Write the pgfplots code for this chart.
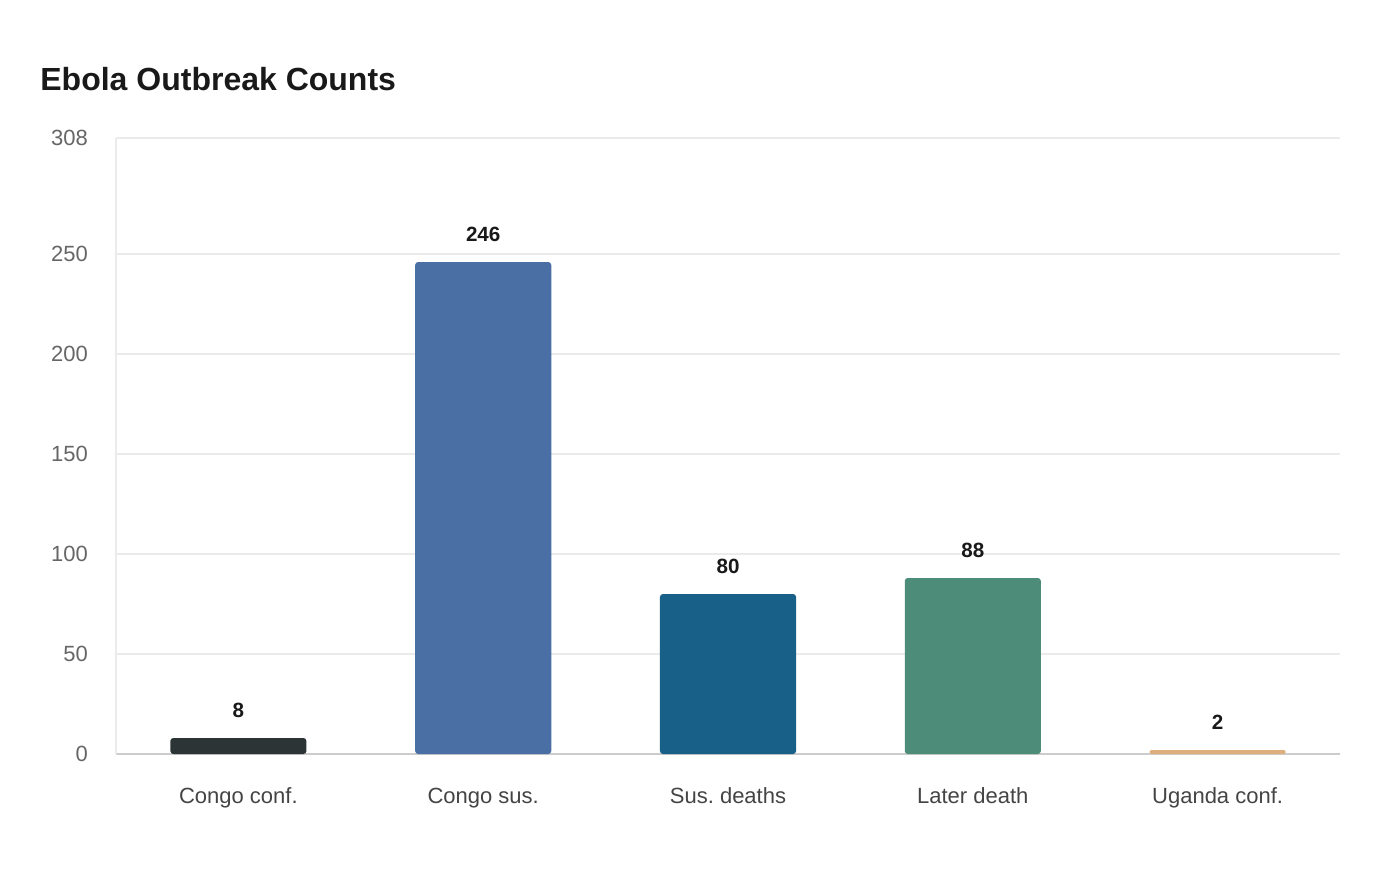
\documentclass[border=0pt]{standalone}
\usepackage{pgfplots}
\pgfplotsset{compat=1.18}
\usepackage{fontspec}
\setmainfont{Liberation Sans}
\frenchspacing
\definecolor{c1}{HTML}{2D3436}
\definecolor{c2}{HTML}{4A6FA5}
\definecolor{c3}{HTML}{186087}
\definecolor{c4}{HTML}{4E8C7A}
\definecolor{c5}{HTML}{DFAE7F}
\definecolor{gridc}{HTML}{EBEBEB}
\definecolor{tickc}{HTML}{666666}
\definecolor{catc}{HTML}{444444}
\begin{document}
\begin{tikzpicture}[x=1pt,y=1pt]
\useasboundingbox (0,0) rectangle (700,440);
\node[anchor=west,inner sep=0pt,font=\fontsize{16}{18}\selectfont\bfseries,text=black!90] at (20,400.5) {Ebola Outbreak Counts};
\begin{axis}[
  at={(58pt,63pt)}, anchor=south west,
  scale only axis, width=612pt, height=308pt,
  xmin=-0.5, xmax=4.5, ymin=0, ymax=308,
  ytick={0,50,100,150,200,250,308},
  xtick={0,1,2,3,4},
  xticklabels={Congo conf.,Congo sus.,Sus. deaths,Later death,Uganda conf.},
  /pgf/number format/assume math mode=true,
  major tick length=0pt,
  ymajorgrids, grid style={gridc, line width=0.6pt},
  axis x line*=bottom, axis y line*=left,
  x axis line style={draw=black!20, line width=0.8pt, -},
  y axis line style={draw=gridc, line width=0.6pt, -},
  tick label style={font=\fontsize{11}{13}\selectfont},
  yticklabel style={text=tickc, xshift=-10.5pt},
  xticklabel style={text=catc, anchor=base, yshift=-24.5pt},
  ybar, bar width=0.556, bar shift=0pt,
  nodes near coords,
  every node near coord/.append style={font=\fontsize{10.3}{12}\selectfont\bfseries, text=black!90, anchor=south, inner sep=0pt, yshift=10pt},
  clip=false,
]
\addplot[fill=c1, draw=none, rounded corners=1.5pt] coordinates {(0,8)};
\addplot[fill=c2, draw=none, rounded corners=1.5pt] coordinates {(1,246)};
\addplot[fill=c3, draw=none, rounded corners=1.5pt] coordinates {(2,80)};
\addplot[fill=c4, draw=none, rounded corners=1.5pt] coordinates {(3,88)};
\addplot[fill=c5, draw=none, rounded corners=0.8pt] coordinates {(4,2)};
\end{axis}
\end{tikzpicture}
\end{document}
